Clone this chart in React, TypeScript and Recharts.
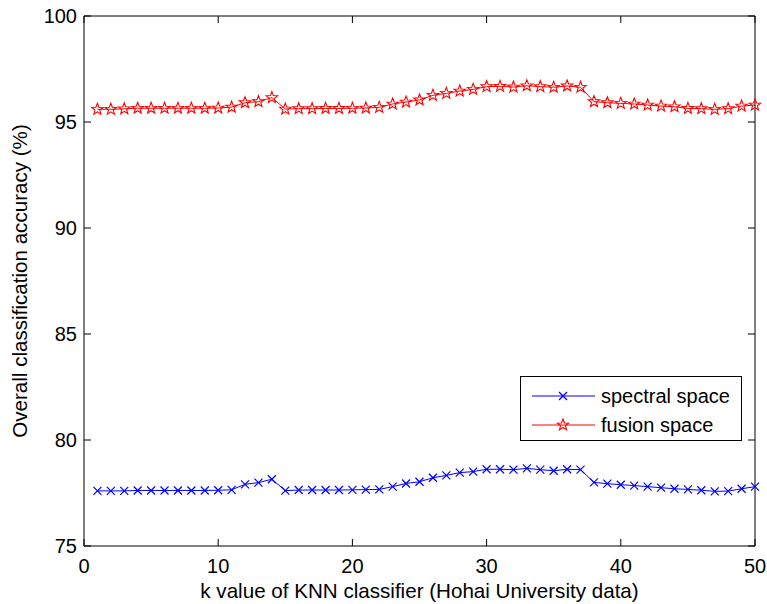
import React from 'react';
import { LineChart, Line, XAxis, YAxis } from 'recharts';

const kValues = Array.from({ length: 50 }, (_, i) => i + 1);

const spectral = [
  77.6, 77.6, 77.6, 77.62, 77.62, 77.62, 77.62, 77.62, 77.62, 77.63,
  77.65, 77.91, 77.99, 78.15, 77.61, 77.64, 77.64, 77.64, 77.64, 77.65,
  77.66, 77.67, 77.8, 77.95, 78.03, 78.22, 78.33, 78.46, 78.51, 78.62,
  78.62, 78.6, 78.66, 78.6, 78.55, 78.62, 78.6, 78.0, 77.94, 77.89,
  77.85, 77.8, 77.75, 77.7, 77.67, 77.63, 77.58, 77.59, 77.7, 77.8,
];

const fusion = [
  95.6, 95.6, 95.62, 95.65, 95.65, 95.65, 95.65, 95.65, 95.65, 95.66,
  95.7, 95.91, 95.96, 96.15, 95.61, 95.63, 95.63, 95.64, 95.64, 95.65,
  95.66, 95.69, 95.85, 95.94, 96.04, 96.26, 96.35, 96.46, 96.54, 96.67,
  96.68, 96.65, 96.71, 96.67, 96.64, 96.7, 96.64, 95.96, 95.91, 95.88,
  95.85, 95.8, 95.75, 95.72, 95.64, 95.63, 95.6, 95.63, 95.75, 95.8,
];

const xTicks = [0, 10, 20, 30, 40, 50];
const yTicks = [75, 80, 85, 90, 95, 100];

const data = kValues.map((k, i) => ({ k, spectral: spectral[i], fusion: fusion[i] }));

const FONT = 'Liberation Sans, Arial, Helvetica, sans-serif';
const TICK_LEN = 7;
const STAR_R = 6;
const CROSS_HALF = 4;

const BottomTick = ({ x, y, payload }: any) => (
  <g>
    <line x1={x} x2={x} y1={y} y2={y - TICK_LEN} stroke="#000" />
    <text x={x} y={y + 27} textAnchor="middle" fontSize={20} fontFamily={FONT} fill="#000">
      {payload.value}
    </text>
  </g>
);

const TopTick = ({ x, y }: any) => (
  <line x1={x} x2={x} y1={y} y2={y + TICK_LEN} stroke="#000" />
);

const LeftTick = ({ x, y, payload }: any) => (
  <g>
    <line x1={x} x2={x + TICK_LEN} y1={y} y2={y} stroke="#000" />
    <text x={x - 7} y={y + 7} textAnchor="end" fontSize={20} fontFamily={FONT} fill="#000">
      {payload.value}
    </text>
  </g>
);

const RightTick = ({ x, y }: any) => (
  <line x1={x} x2={x - TICK_LEN} y1={y} y2={y} stroke="#000" />
);

const Cross = ({ cx, cy, stroke }: any) => {
  if (cx == null || cy == null) return null;
  const s = CROSS_HALF;
  return (
    <g>
      <line x1={cx - s} y1={cy - s} x2={cx + s} y2={cy + s} stroke={stroke} strokeWidth={1.2} />
      <line x1={cx - s} y1={cy + s} x2={cx + s} y2={cy - s} stroke={stroke} strokeWidth={1.2} />
    </g>
  );
};

const starPoints = (cx: number, cy: number, r: number) => {
  const pts: string[] = [];
  for (let i = 0; i < 10; i++) {
    const rad = i % 2 === 0 ? r : r * 0.42;
    const a = -Math.PI / 2 + (i * Math.PI) / 5;
    pts.push(`${cx + rad * Math.cos(a)},${cy + rad * Math.sin(a)}`);
  }
  return pts.join(' ');
};

const Star = ({ cx, cy, stroke }: any) => {
  if (cx == null || cy == null) return null;
  return <polygon points={starPoints(cx, cy, STAR_R)} fill="none" stroke={stroke} strokeWidth={1.1} />;
};

const LegendBox = () => (
  <div
    style={{
      position: 'absolute',
      left: 520,
      top: 376,
      width: 222,
      height: 65,
      border: '1px solid #000',
      background: '#fff',
      boxSizing: 'border-box',
    }}
  >
    <svg width={220} height={63} style={{ display: 'block' }}>
      <line x1={11} x2={74} y1={19} y2={19} stroke="#0000ff" />
      <Cross cx={42} cy={19} stroke="#0000ff" />
      <text x={80} y={26} fontSize={20} fontFamily={FONT} fill="#000">spectral space</text>
      <line x1={11} x2={74} y1={48} y2={48} stroke="#ff0000" />
      <Star cx={42} cy={48} stroke="#ff0000" />
      <text x={80} y={55} fontSize={20} fontFamily={FONT} fill="#000">fusion space</text>
    </svg>
  </div>
);

export default function App() {
  return (
    <div style={{ position: 'absolute', left: 0, top: 0, width: 767, height: 604, background: '#fff' }}>
      <LineChart width={767} height={604} data={data} margin={{ top: 15, right: 11, left: 0, bottom: 0 }}>
        <XAxis
          dataKey="k"
          type="number"
          domain={[0, 50]}
          ticks={xTicks}
          height={58}
          tickSize={0}
          tickMargin={0}
          tickLine={false}
          axisLine={{ stroke: '#000' }}
          tick={<BottomTick />}
          label={{
            value: 'k value of KNN classifier (Hohai University data)',
            position: 'insideBottom',
            offset: 6,
            style: { fontSize: 20.6, fontFamily: FONT, fill: '#000' },
          }}
        />
        <XAxis
          xAxisId="top"
          orientation="top"
          dataKey="k"
          type="number"
          domain={[0, 50]}
          ticks={xTicks}
          height={1}
          tickSize={0}
          tickMargin={0}
          tickLine={false}
          axisLine={{ stroke: '#000' }}
          tick={<TopTick />}
        />
        <YAxis
          type="number"
          domain={[75, 100]}
          ticks={yTicks}
          width={84}
          tickSize={0}
          tickMargin={0}
          tickLine={false}
          axisLine={{ stroke: '#000' }}
          tick={<LeftTick />}
          label={{
            value: 'Overall classification accuracy (%)',
            angle: -90,
            position: 'insideLeft',
            offset: 20,
            style: { fontSize: 20.6, fontFamily: FONT, fill: '#000', textAnchor: 'middle' },
          }}
        />
        <YAxis
          yAxisId="right"
          orientation="right"
          type="number"
          domain={[75, 100]}
          ticks={yTicks}
          width={1}
          tickSize={0}
          tickMargin={0}
          tickLine={false}
          axisLine={{ stroke: '#000' }}
          tick={<RightTick />}
        />
        <Line
          dataKey="spectral"
          stroke="#0000ff"
          strokeWidth={1}
          dot={<Cross stroke="#0000ff" />}
          isAnimationActive={false}
        />
        <Line
          dataKey="fusion"
          stroke="#ff0000"
          strokeWidth={1}
          dot={<Star stroke="#ff0000" />}
          isAnimationActive={false}
        />
        <Line
          xAxisId="top"
          yAxisId="right"
          dataKey="fusion"
          stroke="none"
          dot={false}
          activeDot={false}
          legendType="none"
          isAnimationActive={false}
        />
      </LineChart>
      <LegendBox />
    </div>
  );
}
